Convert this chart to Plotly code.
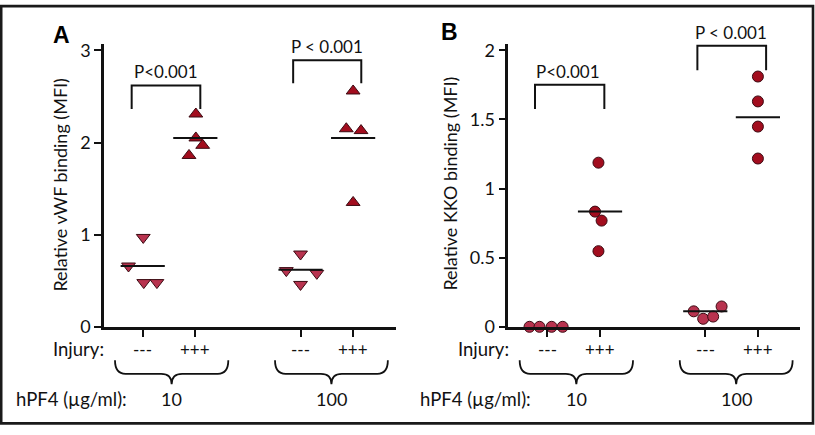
import numpy as np
import plotly.graph_objects as go

# ---------------- data ----------------
group_x = [1, 2, 4, 5]                      # ---/10, +++/10, ---/100, +++/100
injury_labels = ["---", "+++", "---", "+++"]
dose_labels = ["10", "100"]

# Panel A: relative vWF binding (MFI)
vwf_values = [
    [0.97, 0.66, 0.48, 0.48],
    [2.31, 2.05, 1.97, 1.86],
    [0.79, 0.61, 0.58, 0.46],
    [2.56, 2.15, 2.13, 1.35],
]
vwf_jitter = [
    [0.01, -0.27, 0.02, 0.27],
    [0.01, 0.01, 0.14, -0.12],
    [0.0, -0.27, 0.31, 0.0],
    [0.0, -0.13, 0.15, 0.0],
]
vwf_means = [0.66, 2.05, 0.62, 2.05]

# Panel B: relative KKO binding (MFI)
kko_values = [
    [0.0, 0.0, 0.0, 0.0],
    [1.187, 0.833, 0.768, 0.547],
    [0.112, 0.058, 0.074, 0.147],
    [1.81, 1.63, 1.448, 1.217],
]
kko_jitter = [
    [-0.34, -0.15, 0.08, 0.29],
    [-0.03, -0.095, 0.03, -0.03],
    [-0.22, -0.04, 0.15, 0.31],
    [0.0, 0.0, 0.0, 0.0],
]
kko_means = [0.0, 0.833, 0.112, 1.515]

p_labels = ["P<0.001", "P < 0.001"]

# ---------------- styles ----------------
LIGHT = "#b8334f"
DARK = "#a20d1e"
EDGE = "#3b0a12"
FONT = "Lato"
TXT = "#111111"
W, H = 815, 435


def px_x(p):
    return p / W


def px_y(p):
    return 1 - p / H


y_bottom = px_y(333.3)
y_top = px_y(40)
ya_max = 3.074
yb_max = 2.048


def data_to_paper(v, vmax):
    return y_bottom + v / vmax * (y_top - y_bottom)


def label(x, y, text, size, xref="paper", xanchor="center", angle=0,
          family=FONT, color=TXT):
    return dict(x=x, y=y, xref=xref, yref="paper", text=text, showarrow=False,
                xanchor=xanchor, yanchor="middle", textangle=angle,
                font=dict(family=family, size=size, color=color))


fig = go.Figure()

symbols_a = ["triangle-down", "triangle-up", "triangle-down", "triangle-up"]
colors = [LIGHT, DARK, LIGHT, DARK]
for g in range(4):
    fig.add_trace(go.Scatter(
        x=[group_x[g] + j for j in vwf_jitter[g]], y=vwf_values[g],
        mode="markers", xaxis="x", yaxis="y", showlegend=False,
        marker=dict(symbol=symbols_a[g], size=12, color=colors[g],
                    line=dict(color=EDGE, width=1)),
        cliponaxis=False))
    fig.add_trace(go.Scatter(
        x=[group_x[g] - 0.42, group_x[g] + 0.42], y=[vwf_means[g]] * 2,
        mode="lines", xaxis="x", yaxis="y", showlegend=False,
        line=dict(color="#111111", width=2)))

for g in range(4):
    fig.add_trace(go.Scatter(
        x=[group_x[g] + j for j in kko_jitter[g]], y=kko_values[g],
        mode="markers", xaxis="x2", yaxis="y2", showlegend=False,
        marker=dict(symbol="circle", size=11, color=colors[g],
                    line=dict(color=EDGE, width=1)),
        cliponaxis=False))
    if kko_means[g] > 0:
        fig.add_trace(go.Scatter(
            x=[group_x[g] - 0.42, group_x[g] + 0.42], y=[kko_means[g]] * 2,
            mode="lines", xaxis="x2", yaxis="y2", showlegend=False,
            line=dict(color="#111111", width=2)))

axis_common = dict(showline=True, linecolor="#111111", linewidth=2.5,
                   ticks="outside", ticklen=7, tickwidth=2, tickcolor="#111111",
                   showgrid=False, zeroline=False,
                   tickfont=dict(family=FONT, size=18, color=TXT))

fig.update_layout(
    width=W, height=H, margin=dict(l=0, r=0, t=0, b=0), autosize=False,
    paper_bgcolor="white", plot_bgcolor="white",
    xaxis=dict(domain=[px_x(104), px_x(396)], range=[0.264, 5.815],
               tickvals=group_x, showticklabels=False, anchor="y", **axis_common),
    yaxis=dict(domain=[y_bottom, y_top], range=[0, ya_max],
               tickvals=[0, 1, 2, 3], anchor="x", **axis_common),
    xaxis2=dict(domain=[px_x(508.3), px_x(800)], range=[0.257, 5.80],
                tickvals=group_x, showticklabels=False, anchor="y2", **axis_common),
    yaxis2=dict(domain=[y_bottom, y_top], range=[0, yb_max],
                tickvals=[0, 0.5, 1, 1.5, 2], ticktext=["0", "0.5", "1", "1.5", "2"],
                anchor="x2", **axis_common),
)

shapes = []
annotations = []

brackets = [
    ("x", "y", 0.79, 2.095, 2.62, 2.365, 1.44, 2.77, p_labels[0], ya_max),
    ("x", "y", 3.86, 5.155, 2.893, 2.645, 4.51, 3.046, p_labels[1], ya_max),
    ("x2", "y2", 0.764, 2.082, 1.75, 1.575, 1.40, 1.846, p_labels[0], yb_max),
    ("x2", "y2", 3.85, 5.156, 2.032, 1.855, 4.485, 2.125, p_labels[1], yb_max),
]
for xr, yr, x0, x1, yt, yb, tx, ty, lab, ymax in brackets:
    shapes.append(dict(type="path", xref=xr, yref=yr,
                       path=f"M {x0},{yb} L {x0},{yt} L {x1},{yt} L {x1},{yb}",
                       line=dict(color="#111111", width=2)))
    annotations.append(label(tx, data_to_paper(ty, ymax), lab, 17, xref=xr))

ytop_b, ymid_b, ybot_b = px_y(368), px_y(382), px_y(392.7)
brace_spans = [(0.473, 2.627), (3.515, 5.66)]
r = 0.2
for xr in ["x", "x2"]:
    for (x0, x1), dl in zip(brace_spans, dose_labels):
        xm = (x0 + x1) / 2
        path = (f"M {x0},{ytop_b} Q {x0},{ymid_b} {x0 + r},{ymid_b} "
                f"L {xm - r},{ymid_b} Q {xm},{ymid_b} {xm},{ybot_b} "
                f"Q {xm},{ymid_b} {xm + r},{ymid_b} "
                f"L {x1 - r},{ymid_b} Q {x1},{ymid_b} {x1},{ytop_b}")
        shapes.append(dict(type="path", xref=xr, yref="paper", path=path,
                           line=dict(color="#111111", width=1.8)))
        annotations.append(label(xm, px_y(408.3), dl, 18, xref=xr))
    for gx, il in zip(group_x, injury_labels):
        annotations.append(label(gx, px_y(356.7), il, 17, xref=xr))

for xr_px in [106, 511]:
    annotations.append(label(px_x(xr_px), px_y(356.7), "Injury:", 18.5, xanchor="right"))
for xl_px in [14, 418.3]:
    annotations.append(label(px_x(xl_px), px_y(408.3), "hPF4 (µg/ml):", 18.5, xanchor="left"))

annotations.append(label(px_x(60), px_y(186), "Relative vWF binding (MFI)", 18, angle=-90))
annotations.append(label(px_x(450), px_y(185), "Relative KKO binding (MFI)", 18, angle=-90))

annotations.append(label(px_x(61.7), px_y(30.8), "<b>A</b>", 23,
                         family="Liberation Sans", color="#000"))
annotations.append(label(px_x(449.3), px_y(28.3), "<b>B</b>", 23,
                         family="Liberation Sans", color="#000"))

shapes.append(dict(type="rect", xref="paper", yref="paper",
                   x0=px_x(1.2), x1=px_x(813), y0=px_y(433.3), y1=px_y(1.2),
                   line=dict(color="#1a1a1a", width=2.6)))

fig.update_layout(shapes=shapes, annotations=annotations)

post = (
    "document.documentElement.style.margin='0';"
    "document.documentElement.style.padding='0';"
    "document.documentElement.style.overflow='hidden';"
    "document.body.style.margin='0';"
    "document.body.style.padding='0';"
    "document.body.style.overflow='hidden';"
    "var gd=document.getElementById('{plot_id}');"
    "var p=gd.parentElement;"
    "p.style.height='435px';p.style.width='815px';p.style.overflow='hidden';"
    "p.style.lineHeight='0';"
)
fig.write_html("out.html", post_script=post,
               config={"displayModeBar": False, "responsive": False})
